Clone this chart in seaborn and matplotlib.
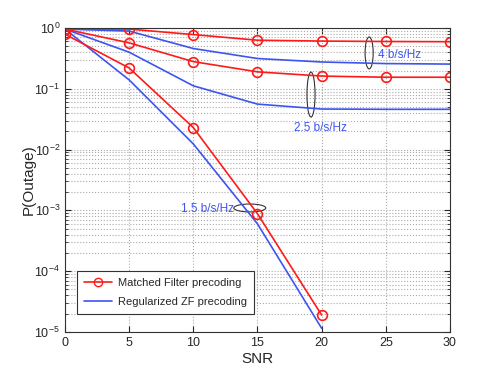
import pandas as pd
import numpy as np
import matplotlib
matplotlib.use("Agg")
import matplotlib.pyplot as plt
from matplotlib.patches import Ellipse
from matplotlib.lines import Line2D
from matplotlib.ticker import LogLocator, NullFormatter
import seaborn as sns

snr = [0, 5, 10, 15, 20, 25, 30]
snr_low = [0, 5, 10, 15, 20]

# Matched filter precoding
mf_4 = [0.96, 0.96, 0.78, 0.63, 0.61, 0.60, 0.595]
mf_25 = [0.96, 0.57, 0.28, 0.19, 0.162, 0.155, 0.155]
mf_15 = [0.79, 0.22, 0.023, 0.00088, 1.9e-5]

# Regularized ZF precoding
zf_4 = [0.96, 0.89, 0.46, 0.315, 0.276, 0.26, 0.255]
zf_25 = [0.96, 0.40, 0.112, 0.056, 0.0465, 0.046, 0.046]
zf_15 = [0.96, 0.14, 0.0124, 0.0006, 1.15e-5]

rate_labels = ["4 b/s/Hz", "2.5 b/s/Hz", "1.5 b/s/Hz"]

red = "#ff1a1a"
blue = "#3d55f0"

sns.set_style("ticks")
plt.rcParams['font.family'] = ['Liberation Sans', 'DejaVu Sans']

fig = plt.figure(figsize=(4.98, 3.75), dpi=100)
ax = fig.add_axes([0.1305, 0.1147, 0.7731, 0.8106])

for y in [zf_4, zf_25]:
    sns.lineplot(x=snr, y=y, ax=ax, color=blue, lw=1.2)
sns.lineplot(x=snr_low, y=zf_15, ax=ax, color=blue, lw=1.2)
for y in [mf_4, mf_25]:
    sns.lineplot(x=snr, y=y, ax=ax, color=red, lw=1.2, marker="o", ms=7,
                 mfc="none", mec=red, mew=1.2)
sns.lineplot(x=snr_low, y=mf_15, ax=ax, color=red, lw=1.2, marker="o", ms=7,
             mfc="none", mec=red, mew=1.2)

ax.set_yscale("log")
ax.set_xlim(0, 30)
ax.set_ylim(1e-5, 1)
ax.set_xticks([0, 5, 10, 15, 20, 25, 30])
ax.yaxis.set_major_locator(LogLocator(base=10, numticks=10))
ax.yaxis.set_minor_locator(LogLocator(base=10, subs=np.arange(2, 10), numticks=10))
ax.yaxis.set_minor_formatter(NullFormatter())
ax.tick_params(direction="in", which="both", top=True, right=True, labelsize=9)
ax.tick_params(which="major", length=4)
ax.tick_params(which="minor", length=2)
ax.grid(True, which="major", ls=":", color="#aaaaaa", lw=0.8)
ax.grid(True, which="minor", axis="y", ls=":", color="#aaaaaa", lw=0.8)
for s in ax.spines.values():
    s.set_color("#333333")
    s.set_linewidth(0.8)

ax.set_xlabel("SNR", fontsize=11, labelpad=2)
ax.set_ylabel("P(Outage)", fontsize=11, labelpad=-1)

# rate annotations
ax.add_patch(Ellipse((0.79, 0.918), 0.021, 0.105, transform=ax.transAxes,
                     fill=False, ec="#333333", lw=0.8))
ax.add_patch(Ellipse((0.639, 0.781), 0.021, 0.148, transform=ax.transAxes,
                     fill=False, ec="#333333", lw=0.8))
ax.add_patch(Ellipse((0.48, 0.408), 0.083, 0.026, transform=ax.transAxes,
                     fill=False, ec="#333333", lw=0.8))
ax.text(0.813, 0.911, rate_labels[0], transform=ax.transAxes, color=blue,
        fontsize=8.5, va="center", ha="left")
ax.text(0.595, 0.671, rate_labels[1], transform=ax.transAxes, color=blue,
        fontsize=8.5, va="center", ha="left")
ax.text(0.301, 0.405, rate_labels[2], transform=ax.transAxes, color=blue,
        fontsize=8.5, va="center", ha="left")

handles = [
    Line2D([], [], color=red, lw=1.2, marker="o", ms=6, mfc="none", mec=red),
    Line2D([], [], color=blue, lw=1.2),
]
leg = ax.legend(handles, ["Matched Filter precoding", "Regularized ZF precoding"],
                loc="lower left", bbox_to_anchor=(0.031, 0.059), borderaxespad=0,
                fontsize=8, fancybox=False, framealpha=1, edgecolor="#333333",
                handlelength=2.6, handletextpad=0.5, borderpad=0.6,
                labelspacing=0.85)
leg.get_frame().set_linewidth(0.8)

fig.savefig("out.png", dpi=100)
